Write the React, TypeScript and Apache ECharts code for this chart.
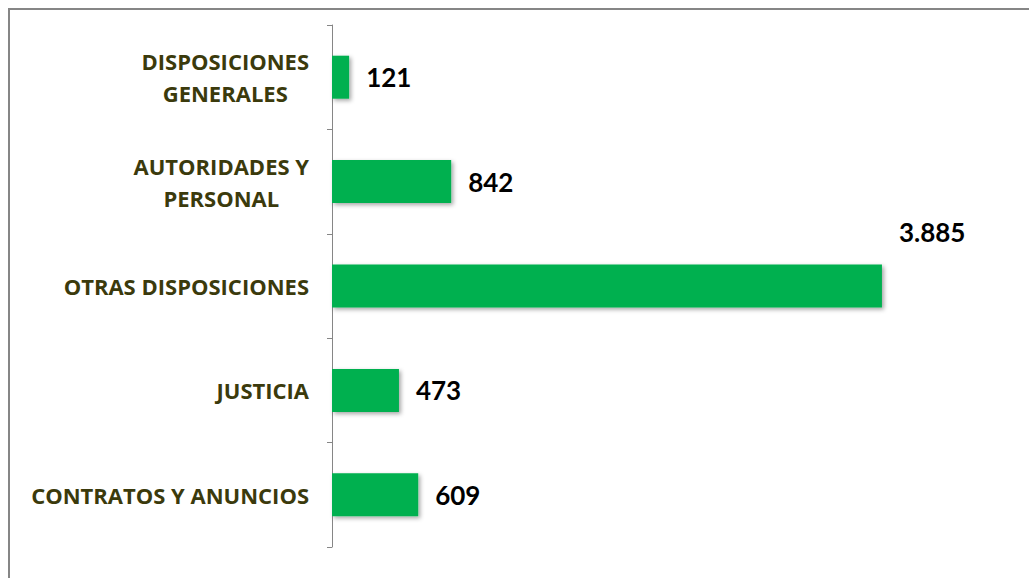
import React, { useEffect, useRef } from "react";
import * as echarts from "echarts";

const categories = [
  "DISPOSICIONES\nGENERALES",
  "AUTORIDADES Y\nPERSONAL",
  "OTRAS DISPOSICIONES",
  "JUSTICIA",
  "CONTRATOS Y ANUNCIOS",
];
const values = [121, 842, 3885, 473, 609];

const fmt = (v: number) => String(v).replace(/\B(?=(\d{3})+(?!\d))/g, ".");

export default function App() {
  const ref = useRef<HTMLDivElement>(null);
  useEffect(() => {
    const chart = echarts.init(ref.current!, null, { renderer: "svg" });
    chart.setOption({
      animation: false,
      backgroundColor: "#ffffff",
      graphic: [
        {
          type: "rect",
          shape: { x: 9, y: 9, width: 1040, height: 600 },
          style: { fill: "none", stroke: "#868686", lineWidth: 2 },
          silent: true,
        },
      ],
      grid: { left: 332, top: 25, width: 637, height: 522 },
      xAxis: {
        type: "value",
        min: 0,
        max: 4500,
        show: false,
      },
      yAxis: {
        type: "category",
        data: categories,
        inverse: true,
        axisLine: { show: true, lineStyle: { color: "#868686", width: 1 } },
        axisTick: { show: true, length: 5, lineStyle: { color: "#868686" } },
        axisLabel: {
          margin: 23,
          align: "right",
          formatter: (v: string) =>
            v
              .split("\n")
              .map((l) => "{c|" + l + "}")
              .join("\n"),
          rich: {
            c: {
              align: "center",
              fontFamily: "Open Sans",
              fontWeight: "bold",
              fontSize: 22,
              lineHeight: 32,
              color: "#3b3a0c",
            },
          },
        },
      },
      series: [
        {
          type: "bar",
          data: values.map((v) =>
            v === 3885
              ? { value: v, label: { offset: [0, -54] } }
              : { value: v }
          ),
          barWidth: 43,
          itemStyle: {
            color: "#00b050",
            shadowColor: "rgba(0,0,0,0.35)",
            shadowBlur: 4,
            shadowOffsetX: 2,
            shadowOffsetY: 2,
          },
          label: {
            show: true,
            position: "right",
            distance: 17,
            formatter: (p: any) => fmt(p.value),
            fontFamily: "Lato",
            fontWeight: "bold",
            fontSize: 26,
            color: "#000000",
          },
        },
      ],
    });
    return () => chart.dispose();
  }, []);
  return (
    <div
      ref={ref}
      style={{ position: "fixed", left: 0, top: 0, width: 1029, height: 578 }}
    />
  );
}
